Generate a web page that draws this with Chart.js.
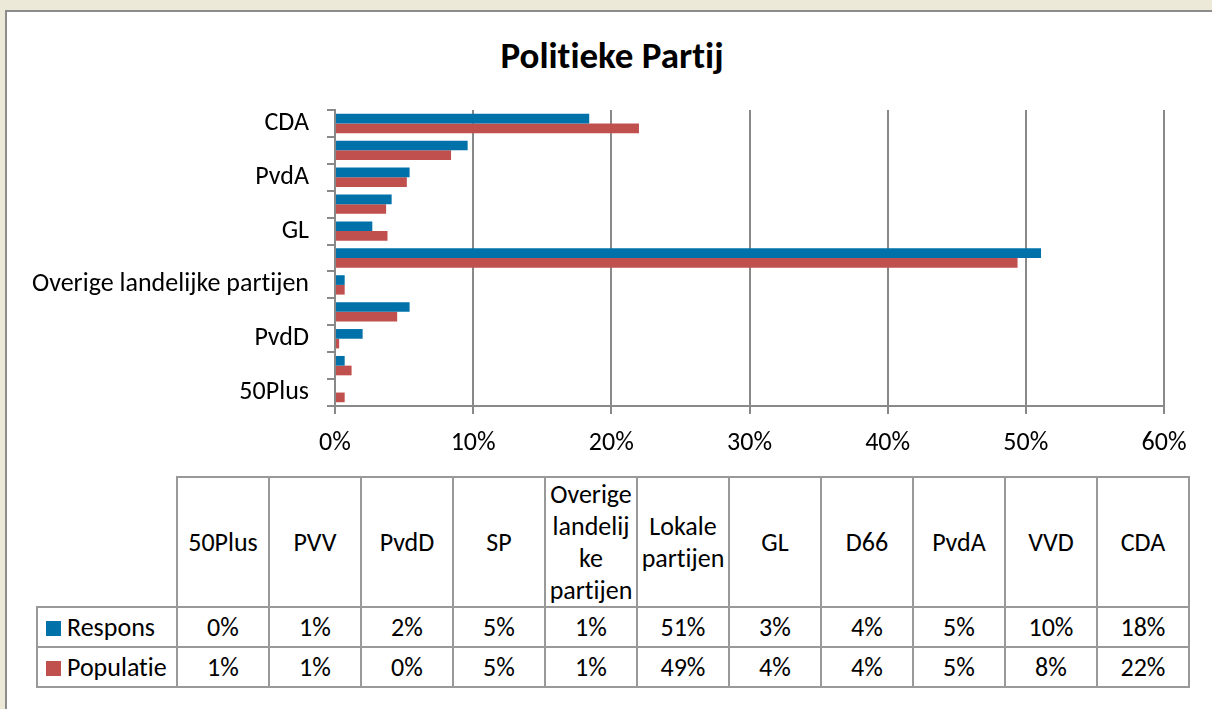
<!DOCTYPE html>
<html>
<head>
<meta charset="utf-8">
<script src="https://cdn.jsdelivr.net/npm/chart.js@4/dist/chart.umd.min.js"></script>
<style>
	body { margin: 0; background: #ece9d8; width: 1212px; height: 709px; overflow: hidden; position: relative; font-family: Carlito, Lato, sans-serif; }
	.frame { position: absolute; left: 5px; top: 10px; right: 0; bottom: 0; background: #fff; border-left: 2px solid #8c8c8c; border-top: 2px solid #8c8c8c; }
	#chart { position: absolute; left: 0; top: 0; }
	.title { position: absolute; left: 0; width: 1224px; top: 34px; line-height: 44px; text-align: center; font-size: 37px; font-weight: bold; color: #000; font-variant-ligatures: none; }
	table.data { position: absolute; left: 36px; top: 476px; border-collapse: collapse; table-layout: fixed; font-size: 26px; font-weight: normal; color: #000; font-variant-ligatures: none; }
	table.data td { border: 2px solid #999; text-align: center; vertical-align: middle; padding: 0 1px; line-height: 32px; overflow-wrap: anywhere; font-weight: normal; }
	table.data tr.head td { height: 126px; }
	table.data tr.row td { height: 38px; line-height: 30px; }
	table.data td.blank { border-top: none; border-left: none; }
	table.data td.key { text-align: left; padding-left: 8px; white-space: nowrap; }
	.sw { display: inline-block; width: 15px; height: 15px; margin-right: 6px; vertical-align: 0px; }
</style>
</head>
<body>
<div class="frame"></div>
<div class="title">Politieke Partij</div>
<canvas id="chart" width="1212" height="470"></canvas>
<table class="data" id="tbl"></table>
<script>
	// categories top to bottom as in the chart
	const categories = ["CDA", "VVD", "PvdA", "D66", "GL", "Lokale partijen", "Overige landelijke partijen", "SP", "PvdD", "PVV", "50Plus"];
	const respons = [18.4, 9.6, 5.4, 4.1, 2.7, 51.1, 0.7, 5.4, 2.0, 0.7, 0];
	const populatie = [22.0, 8.4, 5.2, 3.7, 3.8, 49.4, 0.7, 4.5, 0.3, 1.2, 0.7];
	const xTicks = [0, 10, 20, 30, 40, 50, 60];

	const blue = "#0071a9";
	const red = "#c0504d";
	const grey = "#898989";
	const font = "Carlito, Lato, sans-serif";

	const ctx = document.getElementById("chart").getContext("2d");

	// tiny letter spacing switches off the "ti" ligature
	const noLigatures = {
		id: "noLigatures",
		beforeDraw: (chart) => {
			chart.ctx.letterSpacing = "0.01px";
		},
	};

	new Chart(ctx, {
		type: "bar",
		data: {
			labels: categories,
			datasets: [
				{ label: "Respons", data: respons, backgroundColor: blue },
				{ label: "Populatie", data: populatie, backgroundColor: red },
			],
		},
		plugins: [noLigatures],
		options: {
			indexAxis: "y",
			responsive: false,
			animation: false,
			devicePixelRatio: 1,
			layout: { padding: { left: 0, right: 48, top: 110, bottom: 0 } },
			datasets: { bar: { categoryPercentage: 0.72, barPercentage: 1.0 } },
			plugins: {
				legend: { display: false },
				tooltip: { enabled: false },
				title: { display: false },
			},
			scales: {
				x: {
					min: 0,
					max: 60,
					afterBuildTicks: (scale) => {
						scale.ticks = xTicks.map((v) => ({ value: v }));
					},
					afterFit: (scale) => {
						scale.height = 64;
					},
					grid: { color: grey, lineWidth: 2, tickLength: 8 },
					border: { color: grey, width: 2 },
					ticks: {
						color: "#000",
						padding: 14,
						font: { family: font, size: 26 },
						callback: (v) => v + "%",
					},
				},
				y: {
					afterFit: (scale) => {
						scale.width = 335;
					},
					grid: { drawOnChartArea: false, color: grey, lineWidth: 2, tickLength: 8, offset: true },
					border: { color: grey, width: 2 },
					ticks: {
						autoSkip: false,
						color: "#000",
						padding: 18,
						font: { family: font, size: 26 },
						callback: function (v, i) {
							return i % 2 === 0 ? this.getLabelForValue(v) : "";
						},
					},
				},
			},
		},
	});

	// data table under the chart, columns in reverse order like the source
	const tbl = document.getElementById("tbl");
	const order = categories.map((c, i) => i).reverse();
	let html = '<colgroup><col style="width:140px">' + order.map(() => '<col style="width:92px">').join("") + "</colgroup>";
	html += '<tr class="head"><td class="blank"></td>' + order.map((i) => "<td>" + categories[i] + "</td>").join("") + "</tr>";
	html += '<tr class="row"><td class="key"><span class="sw" style="background:' + blue + '"></span>Respons</td>' +
		order.map((i) => "<td>" + Math.round(respons[i]) + "%</td>").join("") + "</tr>";
	html += '<tr class="row"><td class="key"><span class="sw" style="background:' + red + '"></span>Populatie</td>' +
		order.map((i) => "<td>" + Math.round(populatie[i]) + "%</td>").join("") + "</tr>";
	tbl.innerHTML = html;
</script>
</body>
</html>
